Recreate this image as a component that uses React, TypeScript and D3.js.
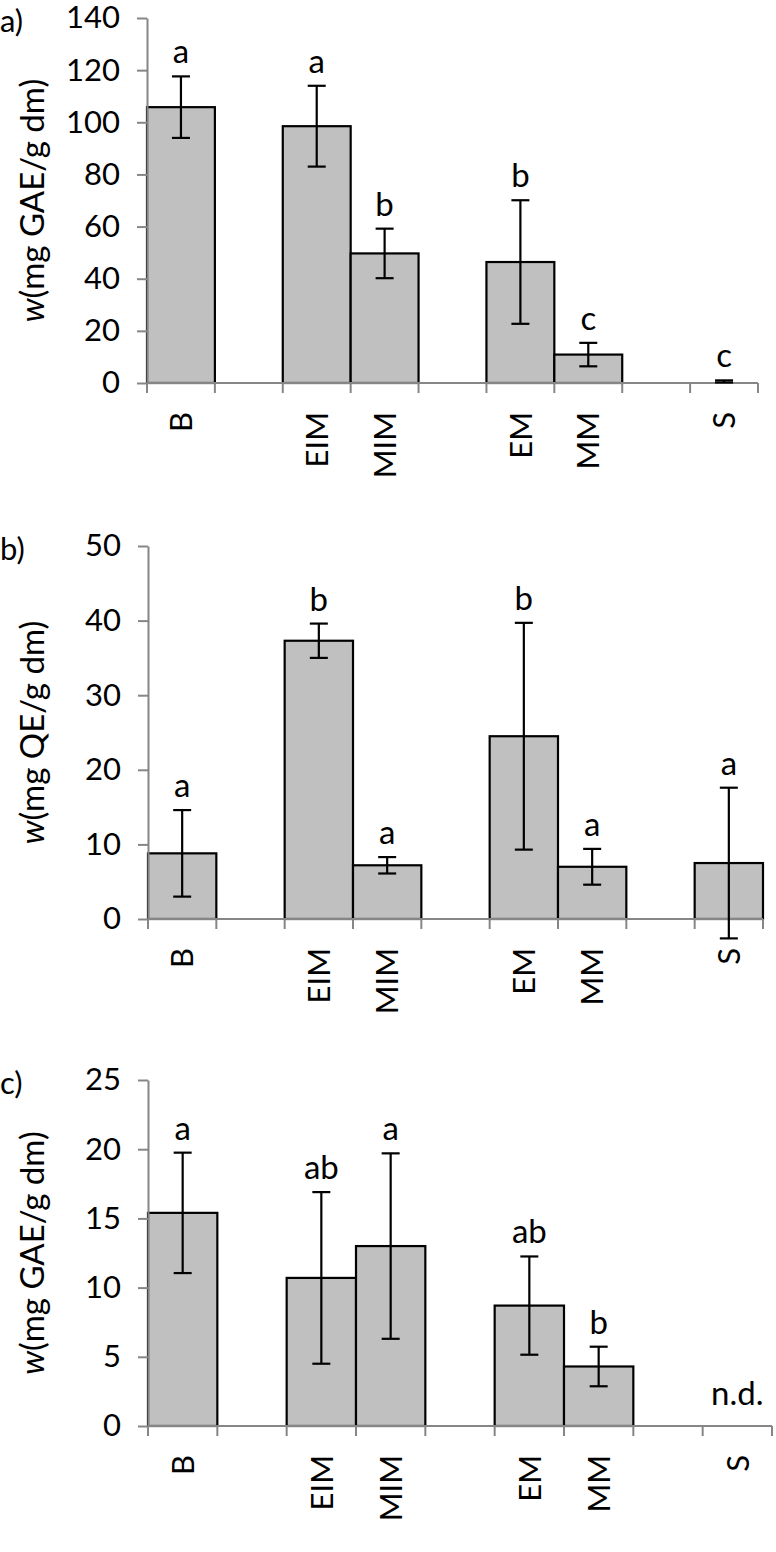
import React, { useEffect, useRef } from 'react';
import * as d3 from 'd3';

// category slots, empty strings are the gaps between groups
const categories = ['B', '', 'EIM', 'MIM', '', 'EM', 'MM', '', 'S'];

// a) total phenols
const phenols = [105.8, null, 98.5, 49.7, null, 46.4, 10.9, null, 0.6];
const phenolsErr = [11.8, null, 15.5, 9.5, null, 23.7, 4.5, null, 0.4];
const phenolsLetters = ['a', '', 'a', 'b', '', 'b', 'c', '', 'c'];

// b) flavonoids
const flavonoids = [8.8, null, 37.3, 7.2, null, 24.5, 7.0, null, 7.5];
const flavonoidsErr = [5.8, null, 2.3, 1.1, null, 15.2, 2.4, null, 10.1];
const flavonoidsLetters = ['a', '', 'b', 'a', '', 'b', 'a', '', 'a'];

// c) phenolic acids
const acids = [15.4, null, 10.7, 13.0, null, 8.7, 4.3, null, null];
const acidsErr = [4.35, null, 6.2, 6.7, null, 3.55, 1.43, null, null];
const acidsLetters = ['a', '', 'ab', 'a', '', 'ab', 'b', '', 'n.d.'];

const panels = [
  { tag: 'a)', unit: '(mg GAE/g dm)', values: phenols, errors: phenolsErr, letters: phenolsLetters, max: 140, step: 20, x0: 147, x1: 758, top: 18, bottom: 383 },
  { tag: 'b)', unit: '(mg QE/g dm)', values: flavonoids, errors: flavonoidsErr, letters: flavonoidsLetters, max: 50, step: 10, x0: 148, x1: 763, top: 546, bottom: 919 },
  { tag: 'c)', unit: '(mg GAE/g dm)', values: acids, errors: acidsErr, letters: acidsLetters, max: 25, step: 5, x0: 148, x1: 772, top: 1080, bottom: 1426 },
];

const FONT = 'Lato, "Open Sans", sans-serif';
const AXIS = '#868686';

const App = () => {
  const ref = useRef<SVGSVGElement | null>(null);

  useEffect(() => {
    if (!ref.current) return;
    const svg = d3.select(ref.current);
    svg.selectAll('*').remove();

    panels.forEach((p) => {
      const g = svg.append('g');
      const x = d3.scaleBand<number>().domain(d3.range(categories.length)).range([p.x0, p.x1]).padding(0);
      const y = d3.scaleLinear().domain([0, p.max]).range([p.bottom, p.top]);
      const bw = x.bandwidth();
      const idx = d3.range(categories.length);

      // bars
      g.selectAll('rect.bar')
        .data(idx.filter((i) => p.values[i] != null && y(0) - y(p.values[i] as number) >= 2))
        .enter()
        .append('rect')
        .attr('x', (i) => x(i) as number)
        .attr('y', (i) => y(p.values[i] as number))
        .attr('width', bw)
        .attr('height', (i) => y(0) - y(p.values[i] as number))
        .attr('fill', '#c0c0c0')
        .attr('stroke', '#000')
        .attr('stroke-width', 2.2);

      // y axis
      const ya = g.append('g')
        .attr('transform', `translate(${p.x0},0)`)
        .call(d3.axisLeft(y).tickValues(d3.range(0, p.max + p.step / 2, p.step)).tickSize(10).tickSizeOuter(0).tickPadding(17));
      ya.select('.domain').attr('stroke', AXIS).attr('stroke-width', 2);
      ya.selectAll('.tick line').attr('stroke', AXIS).attr('stroke-width', 2);
      ya.selectAll('.tick text').attr('font-family', FONT).attr('font-size', 31).attr('fill', '#000');

      // x axis with ticks at band edges
      g.append('line')
        .attr('x1', p.x0).attr('x2', p.x1)
        .attr('y1', y(0)).attr('y2', y(0))
        .attr('stroke', AXIS).attr('stroke-width', 2);
      g.selectAll('line.xtick')
        .data(d3.range(categories.length + 1))
        .enter()
        .append('line')
        .attr('x1', (i) => p.x0 + i * bw).attr('x2', (i) => p.x0 + i * bw)
        .attr('y1', y(0)).attr('y2', y(0) + 10)
        .attr('stroke', AXIS).attr('stroke-width', 2);

      // error bars
      const withErr = idx.filter((i) => p.values[i] != null && p.errors[i] != null);
      withErr.forEach((i) => {
        const cx = (x(i) as number) + bw / 2;
        const v = p.values[i] as number;
        const e = p.errors[i] as number;
        const eb = g.append('g').attr('stroke', '#000').attr('stroke-width', 2.2);
        eb.append('line').attr('x1', cx).attr('x2', cx).attr('y1', y(v - e)).attr('y2', y(v + e));
        eb.append('line').attr('x1', cx - 9).attr('x2', cx + 9).attr('y1', y(v + e)).attr('y2', y(v + e));
        eb.append('line').attr('x1', cx - 9).attr('x2', cx + 9).attr('y1', y(v - e)).attr('y2', y(v - e));
      });

      // significance letters
      g.selectAll('text.letter')
        .data(idx.filter((i) => p.letters[i]))
        .enter()
        .append('text')
        .attr('x', (i) => (x(i) as number) + bw / 2)
        .attr('y', (i) => {
          const v = p.values[i];
          if (v == null) return y(0) - 21;
          return y(v + (p.errors[i] ?? 0)) - 13;
        })
        .attr('text-anchor', 'middle')
        .attr('font-family', FONT)
        .attr('font-size', 33)
        .text((i) => p.letters[i]);

      // category labels, rotated
      idx.filter((i) => categories[i]).forEach((i) => {
        const cx = (x(i) as number) + bw / 2;
        g.append('text')
          .attr('transform', `translate(${cx},${y(0) + 29}) rotate(-90)`)
          .attr('dy', '0.36em')
          .attr('text-anchor', 'end')
          .attr('font-family', FONT)
          .attr('font-size', 31)
          .text(categories[i]);
      });

      // y title
      const t = g.append('text')
        .attr('transform', `translate(44,${(p.top + p.bottom) / 2}) rotate(-90)`)
        .attr('text-anchor', 'middle')
        .attr('font-family', FONT)
        .attr('font-size', 33);
      t.append('tspan').attr('font-style', 'italic').text('w');
      t.append('tspan').text(p.unit);

      // panel tag
      g.append('text')
        .attr('x', 0)
        .attr('y', p.top + 14)
        .attr('font-family', FONT)
        .attr('font-size', 31)
        .text(p.tag);
    });
  }, []);

  return (
    <svg
      ref={ref}
      width={776}
      height={1552}
      style={{ position: 'absolute', left: 0, top: 0, background: '#fff' }}
    />
  );
};

export default App;
